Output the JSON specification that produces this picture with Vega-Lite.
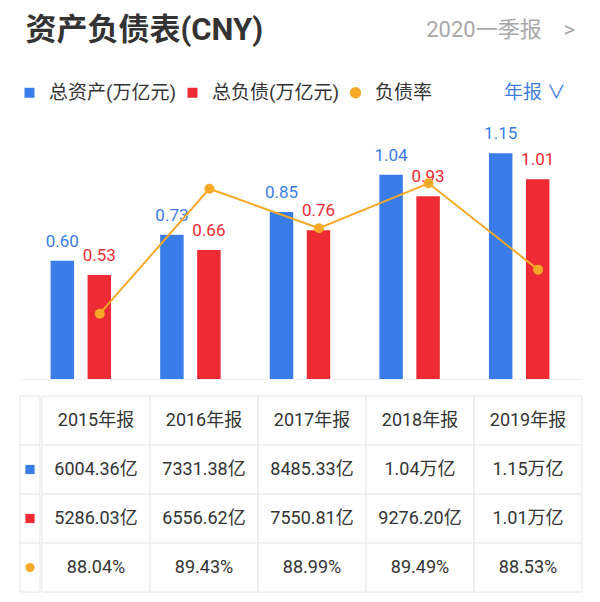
{
  "$schema": "https://vega.github.io/schema/vega-lite/v6.json",
  "padding": {"left": 19, "right": 21, "top": 15, "bottom": 11},
  "spacing": 16,
  "background": "#ffffff",
  "config": {
    "font": "Roboto, Noto Sans CJK SC",
    "view": {"stroke": null}
  },
  "title": {
    "text": "资产负债表(CNY)",
    "anchor": "start",
    "fontSize": 31,
    "fontWeight": "bold",
    "color": "#333333",
    "dx": 6,
    "dy": 32
  },
  "datasets": {
    "bars": [
      {"year": "2015", "series": "总资产(万亿元)", "value": 0.600436},
      {"year": "2015", "series": "总负债(万亿元)", "value": 0.528603},
      {"year": "2016", "series": "总资产(万亿元)", "value": 0.733138},
      {"year": "2016", "series": "总负债(万亿元)", "value": 0.655662},
      {"year": "2017", "series": "总资产(万亿元)", "value": 0.848533},
      {"year": "2017", "series": "总负债(万亿元)", "value": 0.755081},
      {"year": "2018", "series": "总资产(万亿元)", "value": 1.0366},
      {"year": "2018", "series": "总负债(万亿元)", "value": 0.92762},
      {"year": "2019", "series": "总资产(万亿元)", "value": 1.146},
      {"year": "2019", "series": "总负债(万亿元)", "value": 1.0146}
    ],
    "ratio": [
      {"year": "2015", "ratio": 88.04},
      {"year": "2016", "ratio": 89.43},
      {"year": "2017", "ratio": 88.99},
      {"year": "2018", "ratio": 89.49},
      {"year": "2019", "ratio": 88.53}
    ],
    "rows": [
      {"row": "年份"},
      {"row": "总资产(万亿元)"},
      {"row": "总负债(万亿元)"},
      {"row": "负债率"}
    ],
    "table": [
      {"year": "2015", "row": "年份", "text": "2015年报"},
      {"year": "2016", "row": "年份", "text": "2016年报"},
      {"year": "2017", "row": "年份", "text": "2017年报"},
      {"year": "2018", "row": "年份", "text": "2018年报"},
      {"year": "2019", "row": "年份", "text": "2019年报"},
      {"year": "2015", "row": "总资产(万亿元)", "text": "6004.36亿"},
      {"year": "2016", "row": "总资产(万亿元)", "text": "7331.38亿"},
      {"year": "2017", "row": "总资产(万亿元)", "text": "8485.33亿"},
      {"year": "2018", "row": "总资产(万亿元)", "text": "1.04万亿"},
      {"year": "2019", "row": "总资产(万亿元)", "text": "1.15万亿"},
      {"year": "2015", "row": "总负债(万亿元)", "text": "5286.03亿"},
      {"year": "2016", "row": "总负债(万亿元)", "text": "6556.62亿"},
      {"year": "2017", "row": "总负债(万亿元)", "text": "7550.81亿"},
      {"year": "2018", "row": "总负债(万亿元)", "text": "9276.20亿"},
      {"year": "2019", "row": "总负债(万亿元)", "text": "1.01万亿"},
      {"year": "2015", "row": "负债率", "text": "88.04%"},
      {"year": "2016", "row": "负债率", "text": "89.43%"},
      {"year": "2017", "row": "负债率", "text": "88.99%"},
      {"year": "2018", "row": "负债率", "text": "89.49%"},
      {"year": "2019", "row": "负债率", "text": "88.53%"}
    ]
  },
  "vconcat": [
    {
      "width": 560,
      "height": 256,
      "title": {
        "text": "2020一季报\u00a0\u00a0\u00a0\u00a0>",
        "anchor": "end",
        "fontSize": 22,
        "fontWeight": "normal",
        "color": "#a8a8a8",
        "dx": -5,
        "dy": -77
      },
      "layer": [
        {
          "data": {"name": "bars"},
          "layer": [
            {
              "mark": {"type": "bar"},
              "encoding": {
                "x": {
                  "field": "year", "type": "nominal",
                  "scale": {"paddingInner": 0, "paddingOuter": 0.055},
                  "axis": {"labels": false, "ticks": false, "domain": true, "domainColor": "#eeeeee", "grid": false, "title": null}
                },
                "xOffset": {
                  "field": "series", "type": "nominal",
                  "scale": {"domain": ["总资产(万亿元)", "总负债(万亿元)"], "paddingInner": 0.365, "paddingOuter": 0.664}
                },
                "y": {
                  "field": "value", "type": "quantitative",
                  "scale": {"domain": [0, 1.3], "nice": false},
                  "axis": null
                },
                "color": {
                  "field": "series", "type": "nominal",
                  "scale": {
                    "domain": ["总资产(万亿元)", "总负债(万亿元)", "负债率"],
                    "range": ["#3a7de8", "#ee2b34", "#f6a827"]
                  },
                  "legend": {
                    "orient": "none",
                    "legendX": 0,
                    "legendY": -40,
                    "direction": "horizontal",
                    "title": "年报 ∨",
                    "titleOrient": "right",
                    "titlePadding": 72,
                    "titleColor": "#3f7fe0",
                    "titleFontSize": 19,
                    "titleFontWeight": "normal",
                    "symbolType": "square",
                    "symbolSize": 100,
                    "labelFontSize": 19,
                    "labelColor": "#333333",
                    "labelOffset": 10,
                    "columnPadding": 6,
                    "encode": {
                      "symbols": {
                        "update": {
                          "shape": {"signal": "datum.value === '负债率' ? 'circle' : 'square'"},
                          "size": {"signal": "datum.value === '负债率' ? 130 : 100"}
                        }
                      }
                    }
                  }
                }
              }
            },
            {
              "mark": {"type": "text", "fontSize": 17, "baseline": "alphabetic", "dy": -14},
              "encoding": {
                "x": {"field": "year", "type": "nominal"},
                "xOffset": {"field": "series", "type": "nominal"},
                "y": {"field": "value", "type": "quantitative", "axis": null},
                "text": {"field": "value", "type": "quantitative", "format": ".2f"},
                "color": {"field": "series", "type": "nominal"}
              }
            }
          ]
        },
        {
          "data": {"name": "ratio"},
          "encoding": {
            "x": {"field": "year", "type": "nominal", "bandPosition": 0.673},
            "y": {"field": "ratio", "type": "quantitative", "scale": {"domain": [87.3136, 90.161], "nice": false, "zero": false}, "axis": null}
          },
          "layer": [
            {"mark": {"type": "line", "color": "#f6a827", "strokeWidth": 2}},
            {"mark": {"type": "point", "filled": true, "opacity": 1, "color": "#f6a827", "size": 100}}
          ]
        }
      ],
      "resolve": {"scale": {"y": "independent"}}
    },
    {
      "spacing": 0,
      "hconcat": [
        {
          "width": 20,
          "height": 196,
          "data": {"name": "rows"},
          "layer": [
            {
              "mark": {"type": "rect", "fill": "#ffffff", "stroke": "#e6e6e6", "strokeWidth": 1},
              "encoding": {
                "y": {"field": "row", "type": "nominal", "scale": {"domain": ["年份", "总资产(万亿元)", "总负债(万亿元)", "负债率"], "paddingInner": 0, "paddingOuter": 0}, "axis": null}
              }
            },
            {
              "transform": [{"filter": "datum.row !== '年份'"}],
              "mark": {"type": "point", "filled": true, "opacity": 1, "size": 85},
              "encoding": {
                "y": {"field": "row", "type": "nominal", "axis": null},
                "color": {
                  "field": "row", "type": "nominal",
                  "scale": {"domain": ["总资产(万亿元)", "总负债(万亿元)", "负债率"], "range": ["#3a7de8", "#ee2b34", "#f6a827"]},
                  "legend": null
                },
                "shape": {
                  "field": "row", "type": "nominal",
                  "scale": {"domain": ["总资产(万亿元)", "总负债(万亿元)", "负债率"], "range": ["square", "square", "circle"]},
                  "legend": null
                }
              }
            }
          ]
        },
        {
          "width": 540,
          "height": 196,
          "data": {"name": "table"},
          "layer": [
            {
              "mark": {"type": "rect", "fill": "#ffffff", "stroke": "#e6e6e6", "strokeWidth": 1},
              "encoding": {
                "x": {"field": "year", "type": "nominal", "scale": {"paddingInner": 0, "paddingOuter": 0}, "axis": null},
                "y": {"field": "row", "type": "nominal", "scale": {"domain": ["年份", "总资产(万亿元)", "总负债(万亿元)", "负债率"], "paddingInner": 0, "paddingOuter": 0}, "axis": null}
              }
            },
            {
              "mark": {"type": "text", "fontSize": 18, "color": "#333333"},
              "encoding": {
                "x": {"field": "year", "type": "nominal"},
                "y": {"field": "row", "type": "nominal"},
                "text": {"field": "text", "type": "nominal"}
              }
            }
          ]
        }
      ]
    }
  ]
}
